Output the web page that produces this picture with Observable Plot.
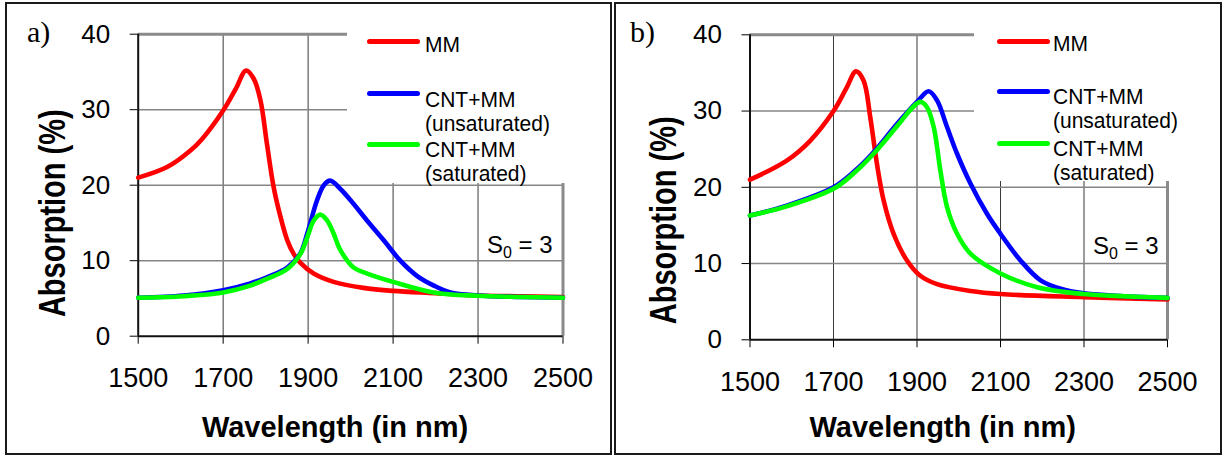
<!DOCTYPE html>
<html><head><meta charset="utf-8">
<script src="https://cdn.jsdelivr.net/npm/d3@7"></script>
<script src="https://cdn.jsdelivr.net/npm/@observablehq/plot@0.6"></script>
<style>
body{margin:0;background:#fff;font-family:"Liberation Sans",Arial,sans-serif;}
#wrap{position:relative;width:1225px;height:456px;overflow:hidden;background:#fff;}
#wrap svg{position:absolute;top:0;}
.box{position:absolute;border:2px solid #1a1a1a;box-sizing:border-box;}
.lbl{position:absolute;font-family:"Liberation Serif","Times New Roman",serif;font-size:30px;line-height:30px;color:#000;}
.legend{position:absolute;background:#fff;}
.sw{position:absolute;height:5px;border-radius:3px;width:53px;}
.lt{position:absolute;font-size:21px;line-height:23px;white-space:nowrap;color:#000;transform:scaleY(1.08);transform-origin:left top;}
.s0{position:absolute;font-size:24px;line-height:24px;white-space:nowrap;color:#000;}
.s0 sub{font-size:16px;vertical-align:-5px;line-height:0;}
</style></head><body><div id="wrap"></div>
<script>
// ---- shared labels / ticks ----
const panelLabels = ["a)", "b)"];
const seriesNames = ["MM", "CNT+MM (unsaturated)", "CNT+MM (saturated)"];
const legendLines = [["MM"], ["CNT+MM", "(unsaturated)"], ["CNT+MM", "(saturated)"]];
const seriesColors = ["#ff0000", "#0000ff", "#00ff00"];
const wavelengthTicks = [1500, 1700, 1900, 2100, 2300, 2500];
const absorptionTicks = [0, 10, 20, 30, 40];
const xTitle = "Wavelength (in nm)";
const yTitle = "Absorption (%)";

// ---- panel a data ----
const aMM_wl  = [1500,1568,1623,1650,1700,1730,1754,1772,1788,1803,1819,1835,1851,1866,1882,1913,1960,2030,2100,2200,2300,2400,2500];
const aMM_abs = [21.0,22.4,24.6,26.1,29.9,32.8,35.2,34.1,31.2,25.5,19.7,15.8,12.7,10.9,9.7,8.3,7.2,6.4,6.0,5.7,5.4,5.3,5.2];
const aUns_wl  = [1500,1607,1700,1764,1803,1851,1882,1898,1921,1937,1952,1976,2000,2039,2078,2117,2156,2196,2235,2298,2400,2500];
const aUns_abs = [5.1,5.4,6.1,7.0,7.8,9.1,11.0,13.6,18.0,20.0,20.6,19.5,18.0,15.3,12.7,10.0,8.0,6.7,5.8,5.4,5.2,5.1];
const aSat_wl  = [1500,1607,1700,1764,1803,1851,1882,1898,1913,1929,1945,1960,1976,2007,2039,2100,2196,2298,2400,2500];
const aSat_abs = [5.1,5.3,5.8,6.7,7.6,8.9,10.9,13.1,15.3,16.1,15.3,13.6,11.4,9.1,8.3,7.2,5.8,5.35,5.2,5.1];

// ---- panel b data ----
const bMM_wl  = [1500,1588,1644,1700,1730,1754,1772,1788,1804,1820,1844,1876,1908,1948,2028,2100,2300,2500];
const bMM_abs = [21.0,23.5,26.1,30.0,32.9,35.2,34.0,29.2,23.1,18.3,13.9,10.4,8.4,7.3,6.4,6.0,5.6,5.3];
const bUns_wl  = [1500,1588,1700,1748,1796,1852,1900,1928,1948,1972,1996,2028,2068,2100,2148,2196,2244,2300,2400,2500];
const bUns_abs = [16.3,17.6,20.0,22.0,24.6,28.3,31.2,32.6,31.4,27.9,24.4,20.5,16.5,13.9,10.4,7.8,6.7,6.1,5.7,5.5];
const bSat_wl  = [1500,1588,1700,1748,1796,1852,1890,1908,1924,1940,1956,1972,1996,2028,2100,2188,2300,2400,2500];
const bSat_abs = [16.3,17.5,19.8,21.8,24.4,28.0,30.5,31.2,30.5,27.9,22.2,17.4,13.9,11.3,8.7,6.9,6.0,5.7,5.5];

const panels = [
  {series: [[aMM_wl, aMM_abs], [aUns_wl, aUns_abs], [aSat_wl, aSat_abs]],
   left: 0, width: 612, ml: 137.7, mr: 49.5, mt: 33.7, mb: 120.3,
   xtdx: -15.5, xtdy: 91.7, ytdx: -85.2, ytdy: 28,
   box: [5, 2, 607, 453], lbl: [27, 17],
   legend: [347, 4, 261, 179], swX: 367, txX: 425, swY: [41.7, 93.3, 144], txY: [31, 85.5, 135.5],
   s0: [487, 232.7]},
  {series: [[bMM_wl, bMM_abs], [bUns_wl, bUns_abs], [bSat_wl, bSat_abs]],
   left: 612, width: 613, ml: 137.5, mr: 58, mt: 34.3, mb: 116.7,
   xtdx: -16, xtdy: 88.4, ytdx: -85.5, ytdy: 33,
   box: [614, 2, 608, 453], lbl: [630, 17],
   legend: [974, 4, 244, 177], swX: 997, txX: 1053, swY: [41, 91, 143], txY: [30.3, 83.3, 134.5],
   s0: [1093, 233.7]}
];

const wrap = document.getElementById("wrap");

panels.forEach((p, pi) => {
  const rows = [];
  p.series.forEach(([xs, ys], si) => xs.forEach((x, j) => rows.push({series: seriesNames[si], wavelength: x, absorption: ys[j]})));
  const chart = Plot.plot({
    width: p.width, height: 456,
    marginLeft: p.ml, marginRight: p.mr, marginTop: p.mt, marginBottom: p.mb,
    style: {fontFamily: "'Liberation Sans', Arial, sans-serif", background: "transparent", color: "#000", overflow: "visible"},
    x: {domain: [1500, 2500]},
    y: {domain: [0, 40]},
    color: {domain: seriesNames, range: seriesColors},
    marks: [
      Plot.gridX(wavelengthTicks.slice(1, -1), {stroke: "#3a3a3a", strokeOpacity: 1, strokeWidth: 1}),
      Plot.gridY(absorptionTicks.slice(1, -1), {stroke: "#858585", strokeOpacity: 1, strokeWidth: 1.6}),
      Plot.gridY(absorptionTicks.slice(-1), {stroke: "#8a8a8a", strokeOpacity: 1, strokeWidth: 3}),
      Plot.gridX(wavelengthTicks.slice(-1), {stroke: "#8a8a8a", strokeOpacity: 1, strokeWidth: 3}),
      Plot.axisX(wavelengthTicks, {tickSize: 8, tickPadding: 24, fontSize: 27, tickFormat: d => String(d), label: null}),
      Plot.axisY(absorptionTicks, {tickSize: 8, tickPadding: 20, fontSize: 26, tickFormat: d => String(d), label: null}),
      Plot.ruleX(wavelengthTicks.slice(0, 1), {stroke: "#111", strokeWidth: 2}),
      Plot.ruleY(absorptionTicks.slice(0, 1), {stroke: "#111", strokeWidth: 2}),
      Plot.line(rows, {x: "wavelength", y: "absorption", z: "series", stroke: "series", strokeWidth: 4.6, curve: "catmull-rom"}),
      Plot.text([xTitle], {text: d => d, frameAnchor: "bottom", lineAnchor: "middle", textAnchor: "middle", dx: p.xtdx, dy: p.xtdy, fontSize: 29, fontWeight: "bold", fill: "#000"}),
      Plot.text([yTitle], {text: d => d, frameAnchor: "left", lineAnchor: "middle", textAnchor: "middle", rotate: -90, dx: p.ytdx, dy: p.ytdy, fontSize: 29, fontWeight: "bold", fill: "#000"})
    ]
  });
  // widen the rotated title's glyphs, as in the reference
  d3.select(chart).selectAll("text").filter(function () { return this.textContent === yTitle; })
    .each(function () { this.setAttribute("transform", (this.getAttribute("transform") || "") + " scale(1,1.25)"); });
  chart.style.left = p.left + "px";
  wrap.appendChild(chart);

  const box = document.createElement("div");
  box.className = "box";
  Object.assign(box.style, {left: p.box[0] + "px", top: p.box[1] + "px", width: p.box[2] + "px", height: p.box[3] + "px"});
  wrap.appendChild(box);

  const lbl = document.createElement("div");
  lbl.className = "lbl";
  lbl.textContent = panelLabels[pi];
  Object.assign(lbl.style, {left: p.lbl[0] + "px", top: p.lbl[1] + "px"});
  wrap.appendChild(lbl);

  const lg = document.createElement("div");
  lg.className = "legend";
  Object.assign(lg.style, {left: p.legend[0] + "px", top: p.legend[1] + "px", width: p.legend[2] + "px", height: p.legend[3] + "px"});
  wrap.appendChild(lg);

  legendLines.forEach((lines, si) => {
    const sw = document.createElement("div");
    sw.className = "sw";
    Object.assign(sw.style, {left: p.swX + "px", top: (p.swY[si] - 2.5) + "px", background: seriesColors[si]});
    wrap.appendChild(sw);
    const tx = document.createElement("div");
    tx.className = "lt";
    tx.innerHTML = lines.join("<br>");
    Object.assign(tx.style, {left: p.txX + "px", top: p.txY[si] + "px"});
    wrap.appendChild(tx);
  });

  const s0 = document.createElement("div");
  s0.className = "s0";
  s0.innerHTML = "S<sub>0</sub> = 3";
  Object.assign(s0.style, {left: p.s0[0] + "px", top: p.s0[1] + "px"});
  wrap.appendChild(s0);
});
</script>
</body></html>
